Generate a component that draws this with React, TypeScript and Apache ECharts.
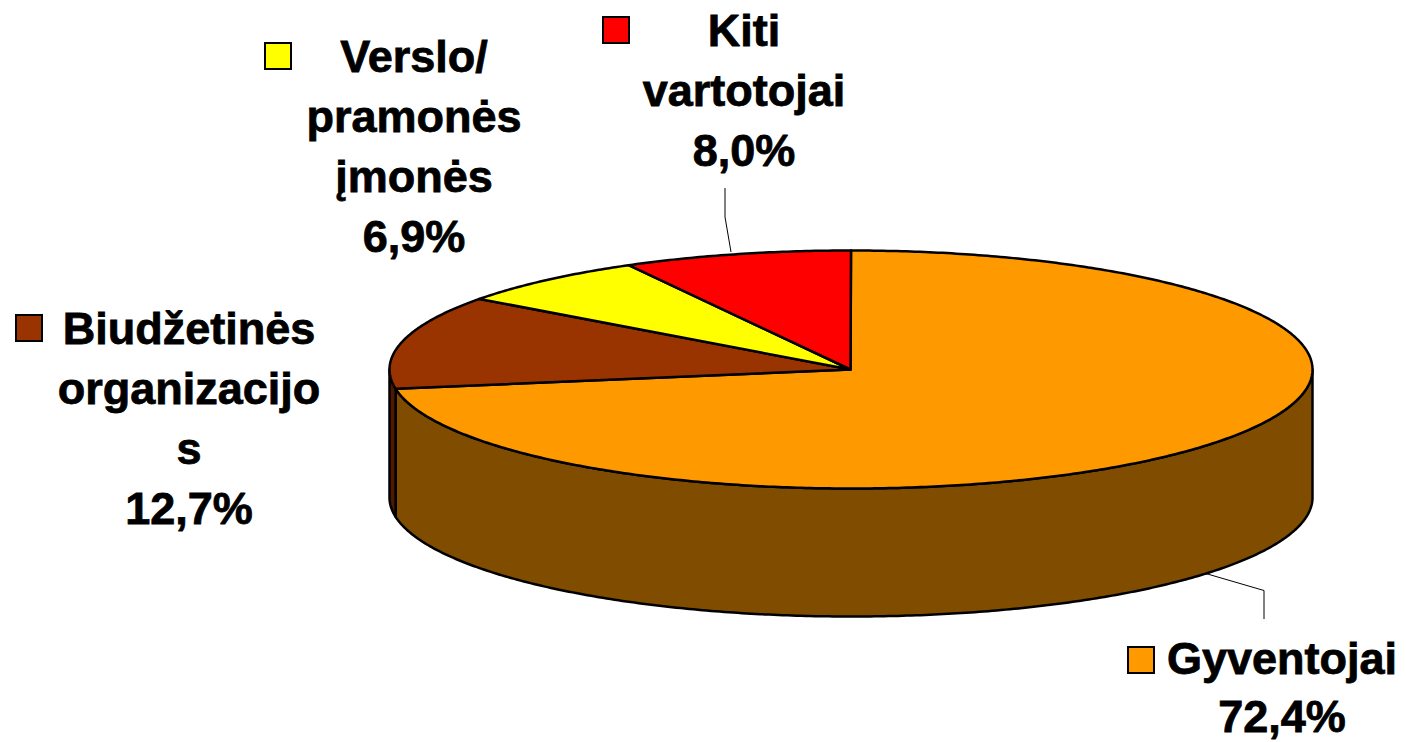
import React, { useEffect, useRef } from "react";
import * as echarts from "echarts";

const categories = ["Gyventojai", "Biudžetinės organizacijos", "Verslo/ pramonės įmonės", "Kiti vartotojai"];
const values = [72.4, 12.7, 6.9, 8.0];
const topColors = ["#ff9900", "#993300", "#ffff00", "#ff0000"];
const sideColors = ["#804d00", "#4d1a00", "#808000", "#800000"];
const labelLines = [
  ["Gyventojai", "72,4%"],
  ["Biudžetinės", "organizacijo", "s", "12,7%"],
  ["Verslo/", "pramonės", "įmonės", "6,9%"],
  ["Kiti", "vartotojai", "8,0%"],
];

// layout
const CX = 851, CY = 369.5, RX = 461.5, RY = 119, DEPTH = 128;
const FONT = '"Liberation Sans", Arial, sans-serif';
const FONT_SIZE = 45;
const labelPos = [
  { x: 1282, y: 658, lh: 58.5, kx: 1128, ky: 647 },
  { x: 189, y: 328, lh: 60, kx: 16, ky: 315 },
  { x: 414, y: 56, lh: 60, kx: 265, ky: 43 },
  { x: 744, y: 30, lh: 60, kx: 603, ky: 17 },
];
const leaders = [
  [[1204, 573], [1264, 590.5], [1264, 619]],
  [[725, 188], [725, 217], [731, 252]],
];

const total = values.reduce((a, b) => a + b, 0);
const pt = (t: number, dy = 0) => [CX + RX * Math.sin(t), CY - RY * Math.cos(t) + dy];
const arc = (a: number, b: number, dy = 0) => {
  const n = Math.max(2, Math.ceil(Math.abs(b - a) / 0.01));
  const out: number[][] = [];
  for (let i = 0; i <= n; i++) out.push(pt(a + ((b - a) * i) / n, dy));
  return out;
};

function renderSlice(params: any, api: any) {
  const i = params.dataIndex;
  let before = 0;
  for (let k = 0; k < i; k++) before += values[k];
  const t0 = (before / total) * 2 * Math.PI;
  const t1 = ((before + (api.value(0) as number)) / total) * 2 * Math.PI;
  const children: any[] = [];
  const s0 = Math.max(t0, Math.PI / 2);
  const s1 = Math.min(t1, (3 * Math.PI) / 2);
  const strokeStyle = { stroke: "#000", lineWidth: 2.5, lineJoin: "round" };
  if (s1 > s0) {
    children.push({
      type: "polygon",
      shape: { points: [...arc(s0, s1), ...arc(s1, s0, DEPTH)] },
      style: { fill: sideColors[i], ...strokeStyle },
    });
  }
  children.push({
    type: "polygon",
    shape: { points: [[CX - 0.5, CY], ...arc(t0, t1)] },
    style: { fill: topColors[i], ...strokeStyle },
  });
  return { type: "group", children };
}

export default function App() {
  const ref = useRef<HTMLDivElement>(null);
  useEffect(() => {
    const chart = echarts.init(ref.current!, undefined, { renderer: "svg" });
    const graphics: any[] = [];
    labelLines.forEach((lines, i) => {
      const p = labelPos[i];
      lines.forEach((line, j) => {
        graphics.push({
          type: "text",
          x: p.x,
          y: p.y + j * p.lh,
          style: {
            text: line,
            fill: "#000",
            stroke: "#000",
            lineWidth: 0.8,
            font: `bold ${FONT_SIZE}px ${FONT}`,
            textAlign: "center",
            textVerticalAlign: "middle",
          },
        });
      });
      graphics.push({
        type: "rect",
        shape: { x: p.kx, y: p.ky, width: 26, height: 26 },
        style: { fill: topColors[i], stroke: "#000", lineWidth: 2 },
      });
    });
    leaders.forEach((points) => {
      graphics.push({
        type: "polyline",
        shape: { points },
        style: { fill: "none", stroke: "#000", lineWidth: 1 },
      });
    });
    chart.setOption({
      animation: false,
      backgroundColor: "#fff",
      graphic: graphics,
      series: [
        {
          type: "custom",
          coordinateSystem: "none",
          silent: true,
          renderItem: renderSlice,
          data: values.map((v, i) => ({ name: categories[i], value: [v] })),
        },
      ],
    });
    return () => chart.dispose();
  }, []);
  return <div ref={ref} style={{ position: "fixed", left: 0, top: 0, width: 1406, height: 742 }} />;
}
